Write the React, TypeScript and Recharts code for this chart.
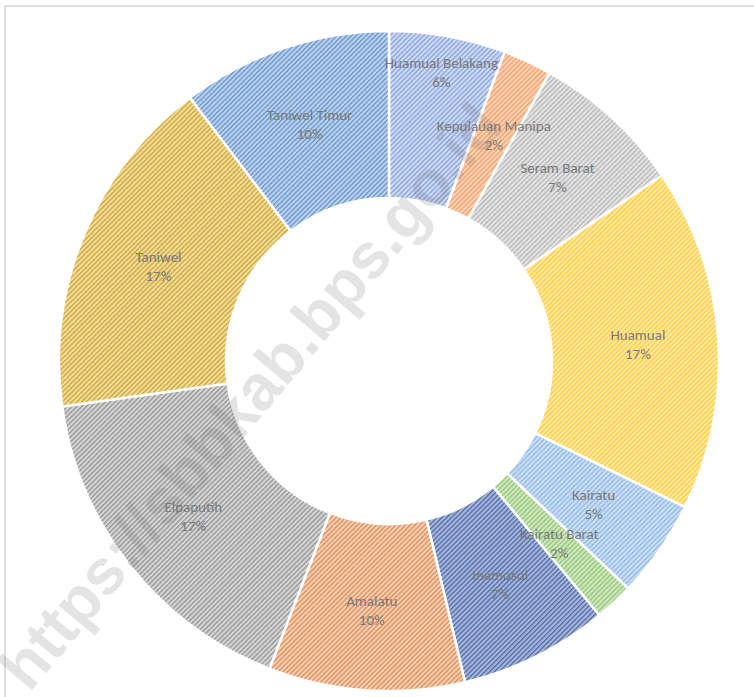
import { PieChart, Pie, Cell } from 'recharts';

const CATEGORIES = [
  'Huamual Belakang',
  'Kepulauan Manipa',
  'Seram Barat',
  'Huamual',
  'Kairatu',
  'Kairatu Barat',
  'Inamosol',
  'Amalatu',
  'Elpaputih',
  'Taniwel',
  'Taniwel Timur',
];
const SHARES = [5.7, 2.4, 7.4, 16.8, 4.8, 1.9, 7.3, 9.6, 16.9, 16.9, 10.3];

// base colour + darker hatch colour for each slice
const BASES = ['#cfdaf3', '#fad3b8', '#e3e3e3', '#ffe9a6', '#c9def2', '#cfe6c1', '#a8b8dc', '#f7d0b4', '#d6d6d6', '#f1dc9c', '#bcd3ec'];
const HATCH = ['#87a2dd', '#f39f65', '#b8b8b8', '#ffcb35', '#93bbe5', '#93c873', '#4d69a6', '#db8b56', '#939393', '#cca635', '#6592cd'];

const data = CATEGORIES.map((name, i) => ({ name, value: SHARES[i] }));
const total = SHARES.reduce((a, b) => a + b, 0);

const CX = 381;
const CY = 353;
const INNER = 163;
const OUTER = 330;
const FONT = 'Calibri, Carlito, "Liberation Sans", Arial, sans-serif';

const labelBox = (cx: number, cy: number, i: number, r: number) => {
  const before = SHARES.slice(0, i).reduce((a, b) => a + b, 0);
  const mid = ((before + SHARES[i] / 2) / total) * 2 * Math.PI;
  const x = cx + r * Math.sin(mid);
  const y = cy - r * Math.cos(mid);
  const w = CATEGORIES[i].length * 7.2;
  return { x, y, w, h: 36 };
};

const overlaps = (a: any, b: any) =>
  Math.abs(a.x - b.x) < (a.w + b.w) / 2 && Math.abs(a.y - b.y) < (a.h + b.h) / 2;

// best-fit style: a label that clashes with the next (narrower) slice's label moves out to the rim
const renderLabel = (props: any) => {
  const { index, percent, cx, cy } = props;
  const nextIdx = (index + 1) % SHARES.length;
  const base = (INNER + OUTER) / 2 + 3;
  let r = base;
  if (SHARES[index] > SHARES[nextIdx] && overlaps(labelBox(cx, cy, index, base), labelBox(cx, cy, nextIdx, base))) {
    r = OUTER - 36;
  }
  const { x, y } = labelBox(cx, cy, index, r);
  return (
    <text
      x={x}
      y={y}
      textAnchor="middle"
      fill="#7a7a7a"
      fontSize={15}
      fontFamily={FONT}
    >
      <tspan x={x} dy={-4}>{CATEGORIES[index]}</tspan>
      <tspan x={x} dy={19}>{`${Math.round(percent * 100)}%`}</tspan>
    </text>
  );
};

export default function App() {
  return (
    <div style={{ position: 'absolute', left: 0, top: 0, width: 754, height: 697, overflow: 'hidden', background: '#fff' }}>
      <div
        style={{
          position: 'absolute',
          left: 4,
          top: 5,
          width: 800,
          height: 750,
          border: '2px solid #dedede',
          boxSizing: 'border-box',
        }}
      />
      <div style={{ position: 'absolute', left: 8, top: 8 }}>
        <PieChart width={746} height={689} margin={{ top: 0, right: 0, bottom: 0, left: 0 }}>
          <defs>
            {BASES.map((b, i) => (
              <pattern
                key={`p-${i}`}
                id={`hatch-${i}`}
                width={3.4}
                height={3.4}
                patternUnits="userSpaceOnUse"
                patternTransform="rotate(45)"
              >
                <rect width={3.4} height={3.4} fill={b} />
                <rect width={1.3} height={3.4} fill={HATCH[i]} />
              </pattern>
            ))}
          </defs>
          <Pie
            data={data}
            dataKey="value"
            nameKey="name"
            cx={CX}
            cy={CY}
            innerRadius={INNER}
            outerRadius={OUTER}
            startAngle={90}
            endAngle={-270}
            stroke="#ffffff"
            strokeWidth={2.5}
            label={renderLabel}
            labelLine={false}
            isAnimationActive={false}
          >
            {data.map((entry, index) => (
              <Cell key={`cell-${index}`} fill={`url(#hatch-${index})`} />
            ))}
          </Pie>
        </PieChart>
      </div>
      <svg
        width={754}
        height={697}
        style={{ position: 'absolute', left: 0, top: 0, pointerEvents: 'none' }}
      >
        <text
          x={250}
          y={396}
          textAnchor="middle"
          dominantBaseline="central"
          fontFamily='"Liberation Sans", Arial, sans-serif'
          fontWeight="bold"
          fontSize={64}
          fill="#7a7a7a"
          fillOpacity={0.2}
          transform="rotate(-50 250 396)"
        >
          https://sbbkab.bps.go.id
        </text>
      </svg>
    </div>
  );
}
